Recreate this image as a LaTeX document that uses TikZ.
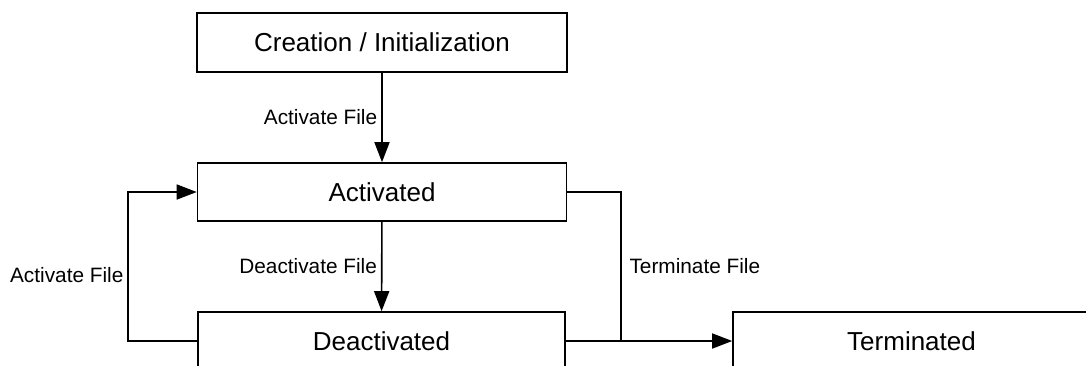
\documentclass[tikz,border=0pt]{standalone}
\usepackage{fontspec}
\setmainfont{Liberation Sans}
\usetikzlibrary{arrows.meta, calc}
\tikzset{state/.style={draw, line width=1.6pt, rectangle, inner sep=0pt, font=\fontsize{26}{31}\selectfont},
	trans/.style={line width=1.6pt, >={Triangle[length=20pt, width=15pt]}},
	lbl/.style={font=\fontsize{20.8}{25}\selectfont, inner sep=4pt}}

\begin{document}
\begin{tikzpicture}[x=1pt, y=-1pt]
		\useasboundingbox (0,0) rectangle (1086,365);
		\node[state, minimum width=370pt, minimum height=59pt] (cre) at (382,42.5) {Creation / Initialization};
		\node[state, minimum width=369pt, minimum height=58pt] (act) at (382,192) {Activated};
		\node[state, minimum width=367pt, minimum height=58pt] (deact) at (381.5,341) {Deactivated};
		\node[state, minimum width=357pt, minimum height=58pt] (term) at (911.5,341) {Terminated};
		
		\draw[trans, ->] (cre) -- (act) node [lbl, midway, left] {Activate File};
		\draw[trans, ->] (act) -- (deact) node [lbl, midway, left] {Deactivate File};
		\draw[trans, ->] (deact.west) -- ++(-69,0) coordinate (lp) |- (act.west) node [lbl, pos=0.22, left] {Activate File};
		\draw[trans, ->] (deact.east) -- (term.west) coordinate[pos=0.33] (join);
		\draw[trans] (act.east) -| (join) node [lbl, pos=0.75, right, xshift=4pt] {Terminate File};
	\end{tikzpicture}
\end{document}
